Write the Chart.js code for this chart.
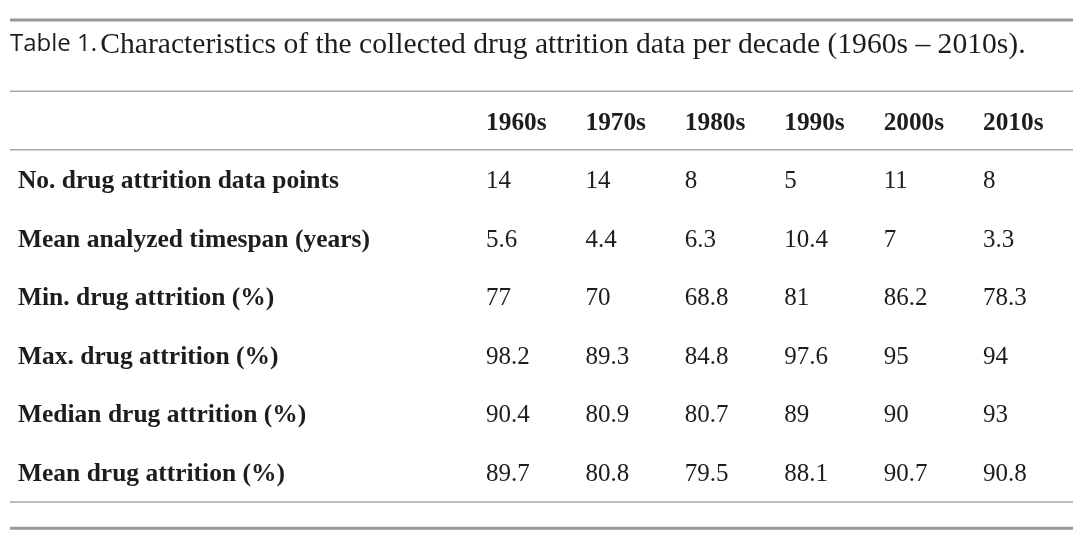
<!DOCTYPE html>
<html>
<head>
<meta charset="utf-8">
<script src="https://cdn.jsdelivr.net/npm/chart.js@4"></script>
<style>
html,body{margin:0;padding:0;background:#fff;}
#wrap{width:1080px;height:545px;position:relative;}
</style>
</head>
<body>
<div id="wrap"><canvas id="c" width="1080" height="545"></canvas></div>
<script>
const captionLead = 'Table 1.';
const captionText = 'Characteristics of the collected drug attrition data per decade (1960s – 2010s).';
const decades = ['1960s', '1970s', '1980s', '1990s', '2000s', '2010s'];
const rowLabels = [
  'No. drug attrition data points',
  'Mean analyzed timespan (years)',
  'Min. drug attrition (%)',
  'Max. drug attrition (%)',
  'Median drug attrition (%)',
  'Mean drug attrition (%)'
];
const dataPoints = [14, 14, 8, 5, 11, 8];
const meanTimespan = [5.6, 4.4, 6.3, 10.4, 7, 3.3];
const minAttrition = [77, 70, 68.8, 81, 86.2, 78.3];
const maxAttrition = [98.2, 89.3, 84.8, 97.6, 95, 94];
const medianAttrition = [90.4, 80.9, 80.7, 89, 90, 93];
const meanAttrition = [89.7, 80.8, 79.5, 88.1, 90.7, 90.8];

const rowValues = [dataPoints, meanTimespan, minAttrition, maxAttrition, medianAttrition, meanAttrition];

const TEXT = '#1f1c1d';
const SERIF = '"Liberation Serif", "Times New Roman", serif';
const LABEL_COL = -4.71;
const DY = 3;

const datasets = rowValues.map((vals, r) => ({
  label: rowLabels[r],
  data: vals.map((v, i) => ({ x: i, y: r + 1, v: v })),
  pointRadius: 0,
  pointHoverRadius: 0,
  showLine: false
}));

const tablePlugin = {
  id: 'tablePlugin',
  afterDatasetsDraw(chart) {
    const ctx = chart.ctx;
    const xs = chart.scales.x, ys = chart.scales.y;
    const left = chart.chartArea.left, right = chart.chartArea.right;
    ctx.save();

    function rule(yv, w, color) {
      const y = ys.getPixelForValue(yv);
      ctx.strokeStyle = color;
      ctx.lineWidth = w;
      ctx.beginPath();
      ctx.moveTo(left, y);
      ctx.lineTo(right, y);
      ctx.stroke();
    }
    rule(-1.71, 3, '#999999');
    rule(-0.49, 1.5, '#a8a8a8');
    rule(0.51, 1.5, '#a8a8a8');
    rule(6.53, 1.5, '#a8a8a8');
    rule(6.98, 3, '#999999');

    // caption
    ctx.fillStyle = TEXT;
    ctx.textBaseline = 'middle';
    ctx.textAlign = 'left';
    const ty = ys.getPixelForValue(-1.32) + 1;
    ctx.font = '24px "Open Sans", sans-serif';
    ctx.fillText(captionLead, left, ty);
    const lw = ctx.measureText(captionLead + ' ').width;
    ctx.font = '29.6px ' + SERIF;
    ctx.fillText(captionText, left + lw - 3, ty + 1);

    // header
    ctx.font = 'bold 25.3px ' + SERIF;
    const hy = ys.getPixelForValue(0) + DY;
    decades.forEach((d, i) => ctx.fillText(d, xs.getPixelForValue(i), hy));

    // row labels
    ctx.font = 'bold 25.5px ' + SERIF;
    rowLabels.forEach((lab, r) => {
      ctx.fillText(lab, xs.getPixelForValue(LABEL_COL), ys.getPixelForValue(r + 1) + DY);
    });

    // cells
    ctx.font = '25px ' + SERIF;
    chart.data.datasets.forEach((ds, di) => {
      const meta = chart.getDatasetMeta(di);
      meta.data.forEach((el, i) => {
        ctx.fillText(String(ds.data[i].v), el.x, el.y + DY);
      });
    });
    ctx.restore();
  }
};

new Chart(document.getElementById('c'), {
  type: 'scatter',
  data: { datasets: datasets },
  options: {
    responsive: false,
    animation: false,
    events: [],
    layout: { padding: { left: 10, right: 7, top: 0, bottom: 0 } },
    plugins: { legend: { display: false }, tooltip: { enabled: false } },
    scales: {
      x: { type: 'linear', min: -4.79, max: 5.905, display: false },
      y: { type: 'linear', min: -2.051, max: 7.265, reverse: true, display: false }
    }
  },
  plugins: [tablePlugin]
});
</script>
</body>
</html>
